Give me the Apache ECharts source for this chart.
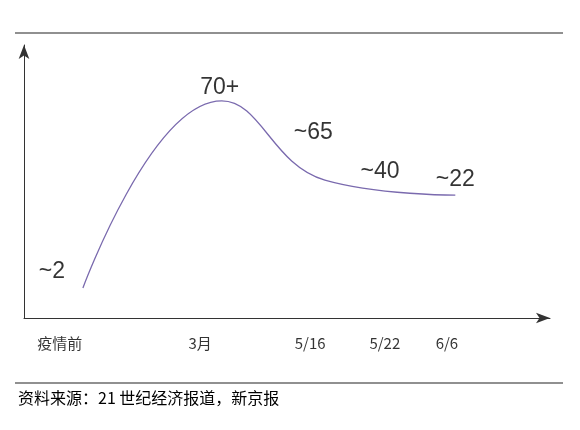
<!DOCTYPE html><html><head><meta charset="utf-8">
<script src="https://cdn.jsdelivr.net/npm/echarts@6/dist/echarts.min.js"></script>
<style>html,body{margin:0;background:#fff}#c{width:580px;height:430px}</style></head><body><div id="c"></div>
<script>
const curveX=[11.2,37.6,57.2,82];
const curveY=[11,79.5,50.5,45];
const valueLabels=['~2','70+','~65','~40','~22'];
const valueLabelX=[5.3,37.2,55,67.7,82];
const valueLabelY=[16.8,84.2,67.8,53.5,50.5];
const categories=['疫情前','3月','5/16','5/22','6/6'];
const categoryX=[6.8,33.5,54.4,68.6,80.4];
const categoryY=-9.2;
const source='资料来源：21 世纪经济报道，新京报';
const chart=echarts.init(document.getElementById('c'));
const lbl=(t,x,y,fs)=>({value:[x,y],label:{show:true,formatter:t,position:'inside',fontSize:fs,color:'#000',fontFamily:'Liberation Sans'}});
chart.setOption({
 animation:false,
 grid:{left:24,right:30,top:45,bottom:112},
 xAxis:{type:'value',min:0,max:100,splitLine:{show:false},axisTick:{show:false},axisLabel:{show:false},
  axisLine:{lineStyle:{color:'#333',width:1},symbol:['none','arrow'],symbolSize:[8,14]}},
 yAxis:{type:'value',min:0,max:100,splitLine:{show:false},axisTick:{show:false},axisLabel:{show:false},
  axisLine:{show:true,lineStyle:{color:'#333',width:1},symbol:['none','arrow'],symbolSize:[8,14]}},
 series:[
  {type:'line',data:curveX.map((x,i)=>[x,curveY[i]]),smooth:0.45,showSymbol:false,lineStyle:{color:'#7a6aae',width:1.3}},
  {type:'scatter',symbolSize:0,clip:false,data:valueLabels.map((t,i)=>lbl(t,valueLabelX[i],valueLabelY[i],23))},
  {type:'scatter',symbolSize:0,clip:false,data:categories.map((t,i)=>{const d=lbl(t,categoryX[i],categoryY,15);d.label.fontFamily='Noto Sans CJK SC';return d;})}
 ],
 graphic:[
  {type:'line',shape:{x1:15,y1:33,x2:563,y2:33},style:{stroke:'#222',lineWidth:1.2}},
  {type:'line',shape:{x1:15,y1:383,x2:563,y2:383},style:{stroke:'#222',lineWidth:1.2}},
  {type:'text',left:18,top:390,style:{text:source,fontSize:16,fill:'#000',fontFamily:'Noto Sans CJK SC'}}
 ]
});
</script></body></html>
